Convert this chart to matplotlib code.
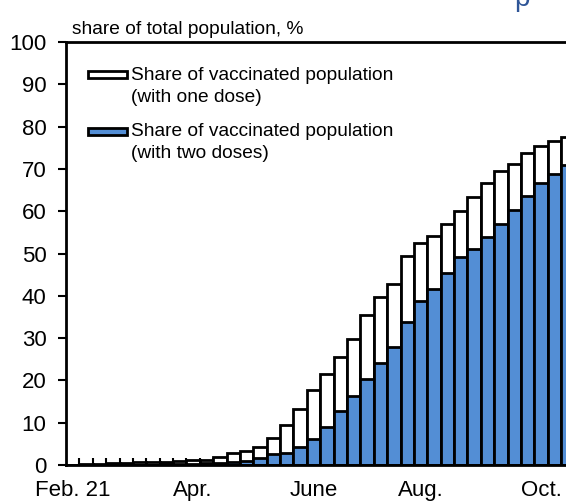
import matplotlib
matplotlib.use("Agg")
import matplotlib.pyplot as plt
from matplotlib.patches import Rectangle

plt.rcParams['font.family'] = ['Liberation Sans', 'DejaVu Sans']

# weekly shares of total population, %
one_dose = [0, 0.2, 0.3, 0.4, 0.5, 0.6, 0.7, 0.8, 0.9, 1.1,
            1.3, 2.0, 2.8, 3.3, 4.3, 6.5, 9.5, 13.3, 17.7, 21.5,
            25.6, 29.9, 35.4, 39.7, 42.7, 49.5, 52.4, 54.1, 57.0, 60.1,
            63.4, 66.7, 69.6, 71.2, 73.7, 75.4, 76.7, 77.5]
two_doses = [0, 0, 0, 0, 0, 0.1, 0.1, 0.2, 0.2, 0.3,
             0.4, 0.5, 0.6, 0.9, 1.6, 2.6, 2.9, 4.2, 6.2, 9.1,
             12.8, 16.4, 20.3, 24.2, 27.8, 33.9, 38.8, 41.7, 45.5, 49.2,
             51.1, 54.0, 57.0, 60.2, 63.6, 66.6, 68.9, 70.9]
month_labels = ["Feb. 21", "Apr.", "June", "Aug.", "Oct."]
month_pos = [0, 9, 18, 26, 35]
label_one = "Share of vaccinated population"
label_one_b = "(with one dose)"
label_two = "Share of vaccinated population"
label_two_b = "(with two doses)"

W, H = 566, 503
blue = '#538ed5'

fig = plt.figure(figsize=(W / 100, H / 100), dpi=100)
ax = fig.add_axes([66 / W, (H - 465) / H, 1 - 66 / W, (465 - 42) / H])

x = list(range(len(one_dose)))
ax.bar(x, one_dose, width=1.0, color='white', edgecolor='black', linewidth=2.0, zorder=2)
ax.bar(x, two_doses, width=1.0, color=blue, edgecolor='black', linewidth=2.0, zorder=3)

ax.set_ylim(0, 100)
ax.set_xlim(-0.5, (W - 66) / 13.38 - 0.5)
ax.set_yticks(range(0, 101, 10))
ax.tick_params(axis='y', direction='out', length=6, width=1.5, pad=8, labelsize=16)

# ticks between categories, labels on some categories
ax.set_xticks([i + 0.5 for i in range(len(one_dose) - 1)])
ax.set_xticklabels([])
ax.tick_params(axis='x', which='major', direction='in', length=5, width=1.5)
ax.set_xticks(month_pos, minor=True)
ax.set_xticklabels(month_labels, minor=True)
ax.tick_params(axis='x', which='minor', length=0, pad=11, labelsize=16)

for side in ['left', 'bottom', 'top']:
    ax.spines[side].set_linewidth(2.0)
    ax.spines[side].set_zorder(5)
ax.spines['right'].set_visible(False)

def fx(px):
    return px / W

def fy(py):
    return 1 - py / H

fig.text(fx(72), fy(29), "share of total population, %", fontsize=13.8, va='center')

# legend
ax.add_patch(Rectangle((fx(88), fy(78)), fx(127) - fx(88), fy(71) - fy(78), transform=fig.transFigure,
                       facecolor='white', edgecolor='black', linewidth=2.0, clip_on=False))
ax.add_patch(Rectangle((fx(88), fy(135)), fx(127) - fx(88), fy(128) - fy(135), transform=fig.transFigure,
                       facecolor=blue, edgecolor='black', linewidth=2.0, clip_on=False))
fig.text(fx(131), fy(75), label_one, fontsize=13.8, va='center')
fig.text(fx(131), fy(97), label_one_b, fontsize=13.8, va='center')
fig.text(fx(131), fy(132), label_two, fontsize=13.8, va='center')
fig.text(fx(131), fy(154), label_two_b, fontsize=13.8, va='center')

# cut-off title above the chart
fig.text(fx(514), fy(6), "p", fontsize=20, color='#2e5597', va='baseline')

fig.savefig("out.png", dpi=100)
